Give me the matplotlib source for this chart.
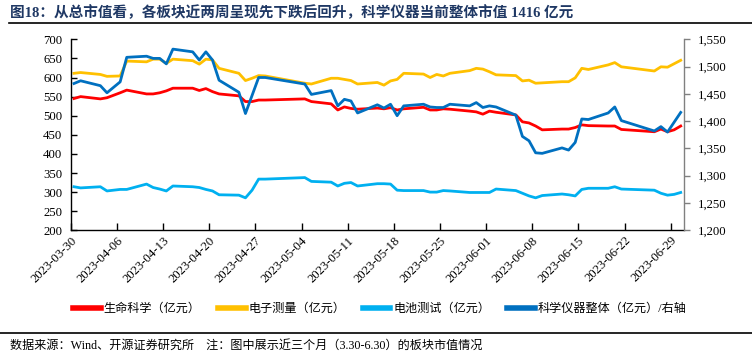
import matplotlib
matplotlib.use("Agg")
import matplotlib.pyplot as plt
import matplotlib.dates as mdates
from matplotlib.lines import Line2D
from matplotlib.ticker import FuncFormatter, MultipleLocator
import pandas as pd

# ---------------- data ----------------
dates = [
    "2023-03-30", "2023-03-31", "2023-04-03", "2023-04-04", "2023-04-06", "2023-04-07",
    "2023-04-10", "2023-04-11", "2023-04-12", "2023-04-13", "2023-04-14",
    "2023-04-17", "2023-04-18", "2023-04-19", "2023-04-20", "2023-04-21",
    "2023-04-24", "2023-04-25", "2023-04-26", "2023-04-27", "2023-04-28",
    "2023-05-04", "2023-05-05",
    "2023-05-08", "2023-05-09", "2023-05-10", "2023-05-11", "2023-05-12",
    "2023-05-15", "2023-05-16", "2023-05-17", "2023-05-18", "2023-05-19",
    "2023-05-22", "2023-05-23", "2023-05-24", "2023-05-25", "2023-05-26",
    "2023-05-29", "2023-05-30", "2023-05-31", "2023-06-01", "2023-06-02",
    "2023-06-05", "2023-06-06", "2023-06-07", "2023-06-08", "2023-06-09",
    "2023-06-12", "2023-06-13", "2023-06-14", "2023-06-15", "2023-06-16",
    "2023-06-19", "2023-06-20", "2023-06-21",
    "2023-06-26", "2023-06-27", "2023-06-28", "2023-06-29", "2023-06-30",
]

life_science = [
    545, 550, 544, 547, 560, 567,
    557, 557, 560, 565, 572,
    572, 566, 571, 563, 557,
    552, 537, 537, 541, 541,
    544, 537,
    531, 515, 523, 519, 517,
    520, 518, 521, 515, 518,
    522, 515, 515, 518, 517,
    512, 510, 504, 512, 509,
    502, 484, 481, 473, 463,
    465, 465, 469, 476, 474,
    473, 473, 464,
    458, 465, 458, 463, 473,
]

electronic_measure = [
    611, 613, 608, 603, 604, 643,
    641, 648, 648, 637, 648,
    644, 635, 648, 646, 624,
    611, 592, 598, 605, 604,
    585, 583,
    598, 598, 595, 592, 583,
    587, 580, 591, 595, 611,
    609, 600, 608, 604, 611,
    618, 624, 622, 615, 607,
    605, 591, 593, 585, 586,
    589, 589, 599, 624, 621,
    633, 639, 628,
    617, 628, 627, 636, 645,
]

battery_test = [
    314, 311, 314, 303, 307, 307,
    321, 312, 308, 303, 316,
    314, 312, 307, 303, 293,
    292, 285, 305, 334, 334,
    338, 328,
    326, 316, 323, 325, 316,
    322, 322, 321, 305, 304,
    304, 300, 300, 304, 303,
    299, 299, 299, 299, 308,
    304, 297, 290, 285, 291,
    295, 293, 290, 307, 310,
    310, 314, 308,
    305, 297, 292, 294, 299,
]

instrument_total = [
    1469, 1474, 1465, 1452, 1472, 1517,
    1519, 1515, 1515, 1505, 1532,
    1527, 1512, 1527, 1512, 1475,
    1453, 1414, 1447, 1480, 1480,
    1468, 1449,
    1456, 1428, 1440, 1437, 1415,
    1430, 1424, 1431, 1410, 1428,
    1431, 1426, 1425, 1425, 1431,
    1428, 1434, 1425, 1428, 1426,
    1411, 1372, 1364, 1342, 1341,
    1351, 1347, 1361, 1404, 1403,
    1415, 1426, 1401,
    1382, 1390, 1380, 1398, 1416,
]

labels = ["生命科学（亿元）", "电子测量（亿元）", "电池测试（亿元）", "科学仪器整体（亿元）/右轴"]
colors = ["#FF0000", "#FFC000", "#00B0F0", "#0070C0"]

title = "图18：从总市值看，各板块近两周呈现先下跌后回升，科学仪器当前整体市值 1416 亿元"
footer = "数据来源：Wind、开源证券研究所    注：图中展示近三个月（3.30-6.30）的板块市值情况"

# ---------------- figure ----------------
W, H = 752, 357
fig = plt.figure(figsize=(W / 100, H / 100), dpi=100)
SERIF = "Liberation Serif"
CJK = "Noto Sans CJK SC"
MIX = [SERIF, CJK]

x = pd.to_datetime(dates) + pd.Timedelta(hours=12)

left, right, top, bottom = 70.7, 684, 39.3, 230.3
ax = fig.add_axes([left / W, 1 - bottom / H, (right - left) / W, (bottom - top) / H])
ax2 = ax.twinx()

lw = 2.0
l1, = ax.plot(x, life_science, color=colors[0], lw=lw, solid_joinstyle="round")
l2, = ax.plot(x, electronic_measure, color=colors[1], lw=lw, solid_joinstyle="round")
l3, = ax.plot(x, battery_test, color=colors[2], lw=lw, solid_joinstyle="round")
l4, = ax2.plot(x, instrument_total, color=colors[3], lw=lw, solid_joinstyle="round")

ax.set_xlim(pd.Timestamp("2023-03-30"), pd.Timestamp("2023-07-01"))
ax.set_ylim(200, 700)
ax.yaxis.set_major_locator(MultipleLocator(50))
ax2.set_ylim(1200, 1550)
ax2.yaxis.set_major_locator(MultipleLocator(50))
ax2.yaxis.set_major_formatter(FuncFormatter(lambda v, p: f"{int(v):,}"))

xt = pd.date_range("2023-03-30", "2023-06-29", freq="7D")
ax.set_xticks(xt)
ax.xaxis.set_major_formatter(mdates.DateFormatter("%Y-%m-%d"))

for s in ["top", "right"]:
    ax.spines[s].set_visible(False)
for s in ["top", "left", "bottom"]:
    ax2.spines[s].set_visible(False)
ax.spines["left"].set_color("black")
ax.spines["bottom"].set_color("black")
ax2.spines["right"].set_color("#808080")
for s in [ax.spines["left"], ax.spines["bottom"], ax2.spines["right"]]:
    s.set_linewidth(1.0)

ax.tick_params(axis="y", direction="in", length=4, width=1, pad=6, labelsize=9.2)
ax.tick_params(axis="x", direction="in", length=5, width=1, pad=3, labelsize=9.2)
ax2.tick_params(axis="y", direction="out", length=4, width=1, color="#808080", pad=6, labelsize=9.2)

for lab in ax.get_yticklabels() + ax2.get_yticklabels() + ax.get_xticklabels():
    lab.set_fontfamily(SERIF)
for lab in ax.get_xticklabels():
    lab.set_rotation(45)
    lab.set_ha("right")
    lab.set_rotation_mode("anchor")

# legend
handles = [Line2D([0], [0], color=c, lw=4) for c in colors]
fig.legend(handles, labels, loc="center", bbox_to_anchor=(380 / W, 1 - 309 / H), ncol=4,
           frameon=False, prop={"family": MIX, "size": 8.7}, handlelength=2.3,
           handletextpad=0.25, columnspacing=1.4, borderaxespad=0)

# title and footer
fig.text(10 / W, 1 - 13 / H, title, ha="left", va="center", fontsize=10.5,
         fontweight="bold", color="#1F3864", family=MIX)
fig.add_artist(Line2D([9 / W, 1], [1 - 23.3 / H] * 2, color="black", lw=1.2))
fig.add_artist(Line2D([0, 1], [1 - 333.3 / H] * 2, color="black", lw=1.2))
fig.text(10 / W, 1 - 345.5 / H, footer, ha="left", va="center", fontsize=8.7,
         color="black", family=MIX)

fig.savefig("out.png", dpi=100)
